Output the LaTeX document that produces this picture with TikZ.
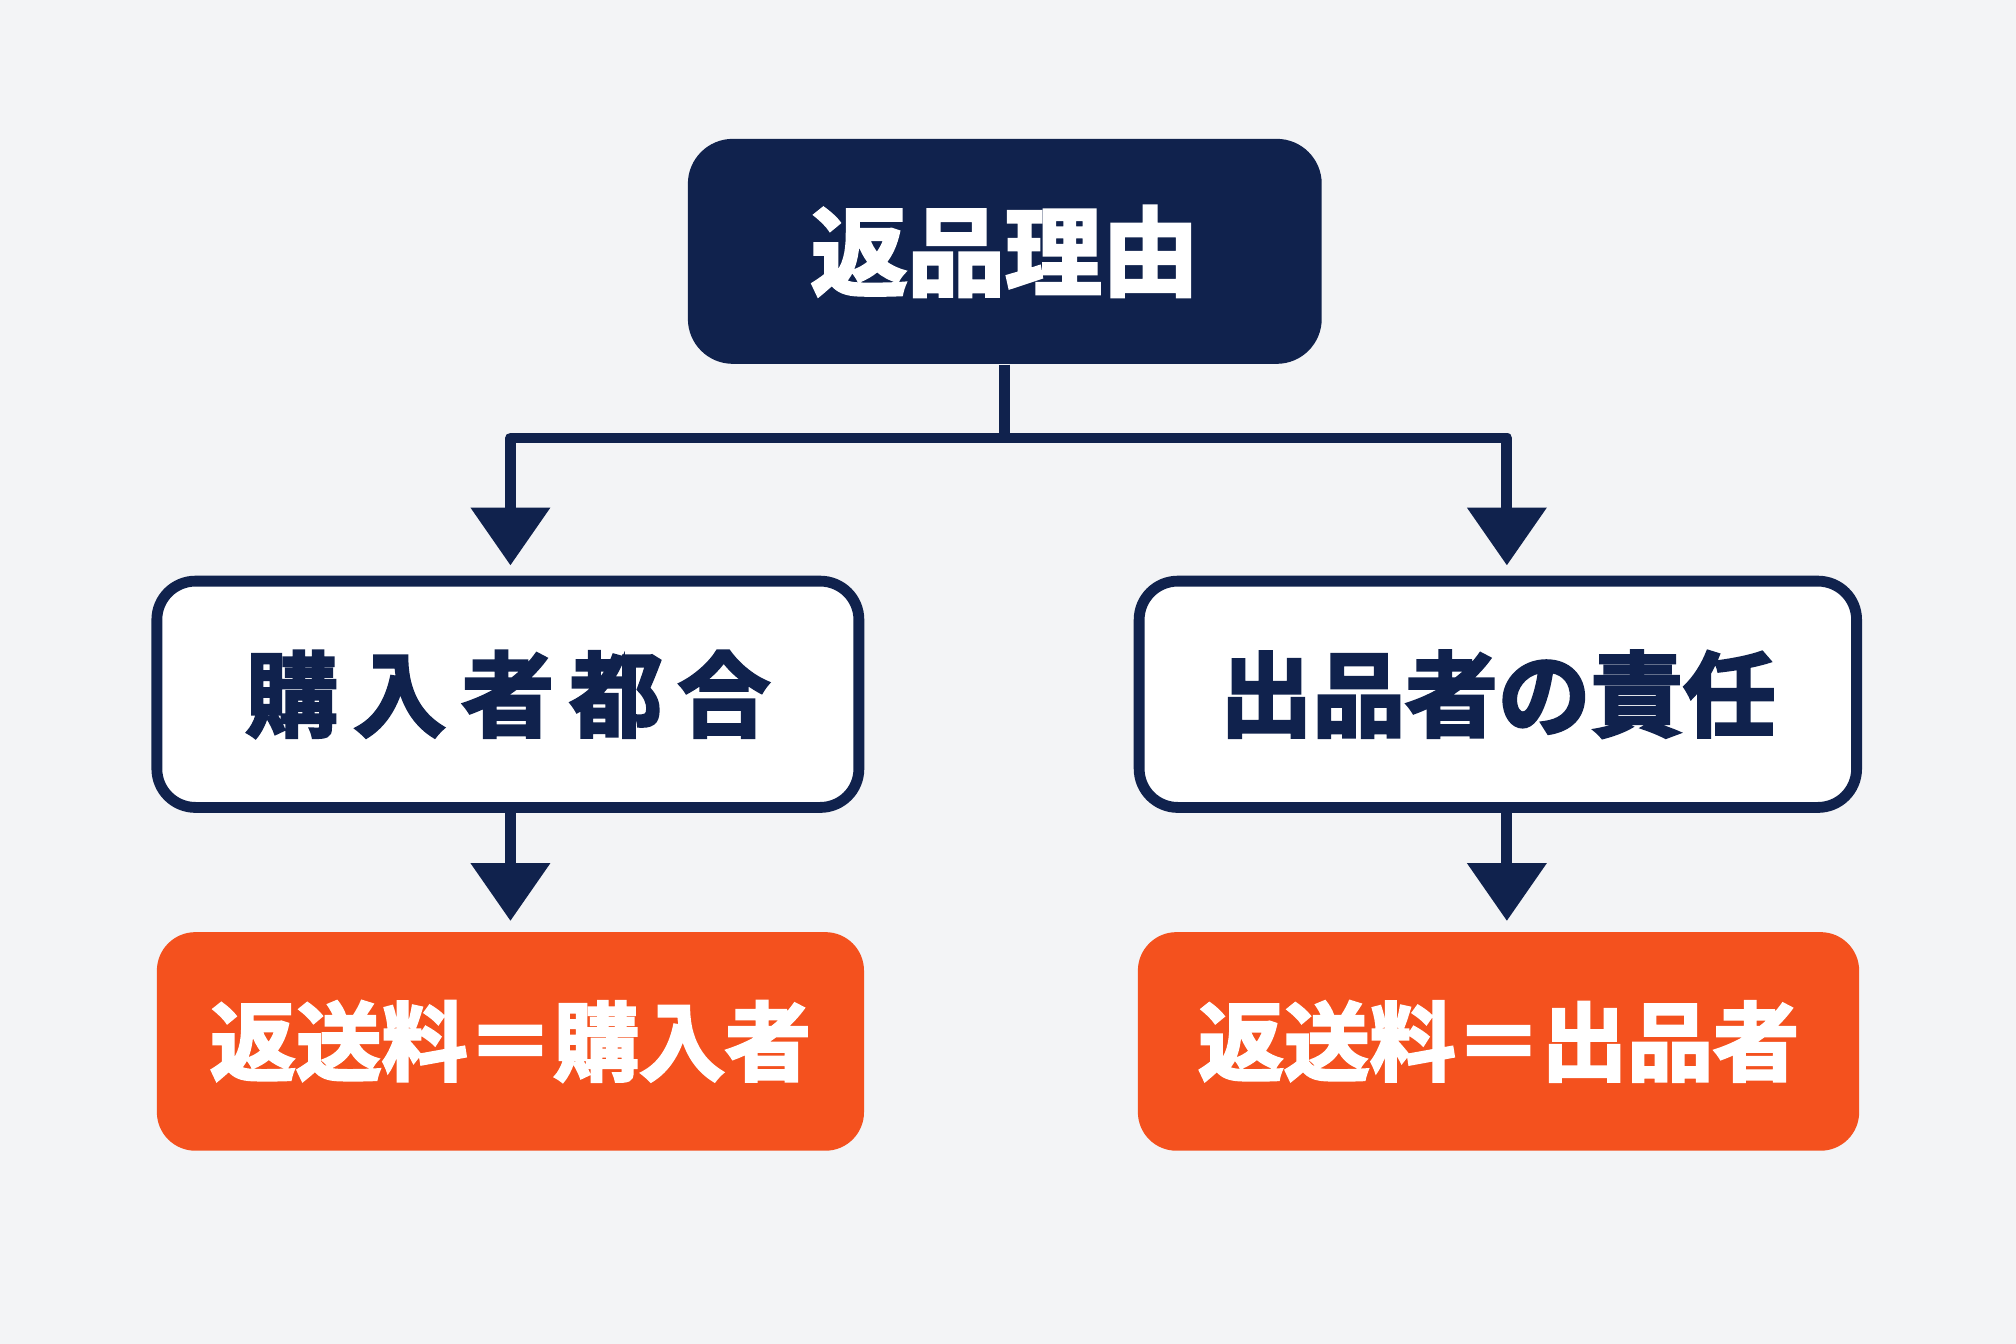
\documentclass[tikz,border=0pt]{standalone}
\usepackage{fontspec}
\newfontfamily\cjk{Noto Sans CJK JP}[BoldFont={Noto Sans CJK JP Bold}, BoldFeatures={FakeBold=3}]
\usetikzlibrary{arrows.meta,positioning,calc}
\definecolor{navy}{HTML}{10224D}
\definecolor{accent}{HTML}{F4511E}
\definecolor{bg}{HTML}{F3F4F6}

\begin{document}
\begin{tikzpicture}[
    font=\cjk\bfseries,
    reason/.style={rectangle, rounded corners=0.35cm, fill=navy, text=white, minimum width=4.93cm, minimum height=1.75cm, font=\cjk\bfseries\fontsize{21.5pt}{24pt}\selectfont},
    case/.style={rectangle, rounded corners=0.3cm, draw=navy, line width=2.4pt, fill=white, text=navy, minimum height=1.76cm, font=\cjk\bfseries\fontsize{20.5pt}{24pt}\selectfont},
    cost/.style={rectangle, rounded corners=0.3cm, fill=accent, text=white, minimum width=5.5cm, minimum height=1.7cm, font=\cjk\bfseries\fontsize{19pt}{22pt}\selectfont},
    line/.style={draw=navy, line width=2.4pt, line join=round},
    arrow/.style={line, -{Triangle[width=0.6cm,length=0.45cm]}, shorten >=0.08cm}
]
    \fill[bg] (0,0) rectangle (15.68,10.45);
    \useasboundingbox (0,0) rectangle (15.68,10.45);

    % Nodes
    \node[reason] (reason) at (7.815,8.495) {返品理由};
    \node[case, minimum width=5.46cm] (buyer) at (3.95,5.05) {購\,入\,者\,都\,合};
    \node[case, minimum width=5.58cm] (seller) at (11.65,5.05) {出品者の責任};
    \node[cost] (buyercost) at (3.97,2.35) {返送料＝購入者};
    \node[cost, minimum width=5.61cm] (sellercost) at (11.655,2.35) {返送料＝出品者};

    % Connectors
    \coordinate (split) at ($(reason.south)+(0,-0.57)$);
    \coordinate (leftdrop) at ([xshift=0.02cm]buyer.north);
    \coordinate (rightdrop) at ([xshift=0.07cm]seller.north);
    \draw[line] (reason.south) -- (split);
    \draw[arrow] (split) -| (leftdrop);
    \draw[arrow] (split) -| (rightdrop);
    \draw[arrow] (buyer.south -| leftdrop) -- (buyercost.north -| leftdrop);
    \draw[arrow] (seller.south -| rightdrop) -- (sellercost.north -| rightdrop);
\end{tikzpicture}
\end{document}
